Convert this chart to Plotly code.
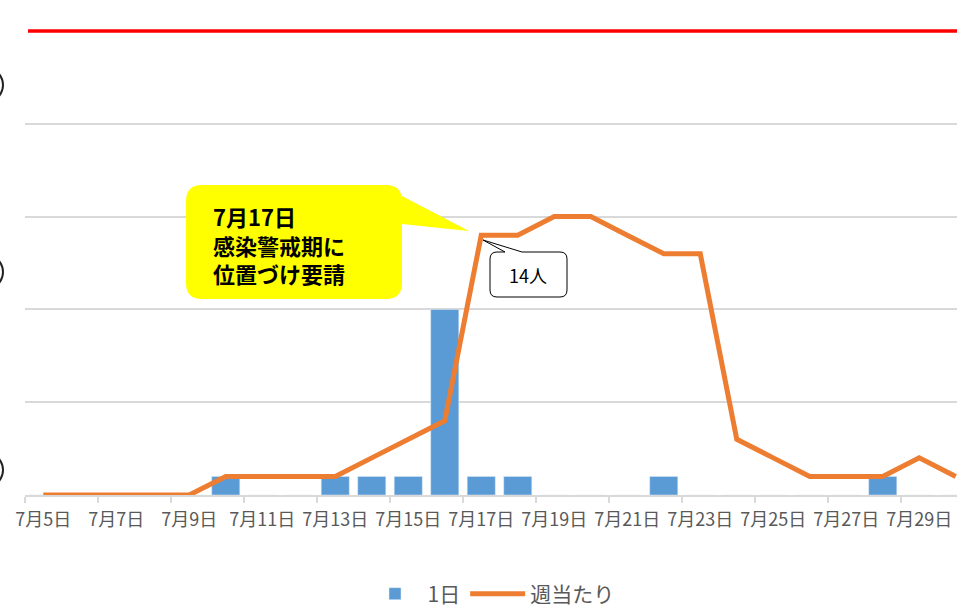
import plotly.graph_objects as go

# dates 7/5 .. 7/30
days = list(range(5, 31))
dates = [f"7月{d}日" for d in days]

daily = [0, 0, 0, 0, 0, 1, 0, 0, 1, 1, 1, 10, 1, 1, 0, 0, 0, 1, 0, 0, 0, 0, 0, 1, 0, 0]
weekly = [0, 0, 0, 0, 0, 1, 1, 1, 1, 2, 3, 4, 14, 14, 15, 15, 14, 13, 13, 3, 2, 1, 1, 1, 2, 1]
threshold = 25

W, H = 957, 609
L, R, T, B = 25, 0, 31, 114
pw, ph = W - L - R, H - T - B


def px(x):
    return (x - L) / pw


def py(y):
    return (H - B - y) / ph


fig = go.Figure()
fig.add_trace(go.Bar(x=dates, y=daily, name="1日", marker_color="#5B9BD5"))
fig.add_trace(go.Scatter(x=dates, y=weekly, name="週当たり", mode="lines",
                         line=dict(color="#ED7D31", width=5)))

# visible range ends at the right image edge
fig.update_xaxes(type="category", range=[-0.5, -0.5 + pw / 36.5], automargin=False,
                 dtick=2, tickson="boundaries", ticks="outside", ticklen=6, tickangle=0,
                 ticklabelstandoff=7,
                 tickcolor="#D9D9D9", tickwidth=2, showline=True, linecolor="#D9D9D9", linewidth=2,
                 showgrid=False, tickfont=dict(size=18, color="#595959"))
fig.update_yaxes(range=[0, 25], dtick=5, showgrid=True, gridcolor="#D9D9D9", automargin=False,
                 gridwidth=1.5, showticklabels=False, zeroline=False)

shapes = [
    dict(type="line", xref="paper", yref="paper", x0=px(28), x1=1, y0=1, y1=1,
         line=dict(color="#FF0000", width=3.5)),
]

# cropped circles at the left edge
for cy in (85, 272, 470):
    shapes.append(dict(type="circle", xref="paper", yref="paper",
                       x0=px(-70), x1=px(3), y0=py(cy + 24), y1=py(cy - 24),
                       line=dict(color="#222222", width=2)))

# yellow callout
x0, x1, y0, y1, r = 186, 402, 185, 299, 16
yellow = (f"M {px(x0 + r)},{py(y0)} L {px(x1 - r)},{py(y0)} "
          f"Q {px(x1)},{py(y0)} {px(x1)},{py(y0 + r)} "
          f"L {px(x1)},{py(196)} L {px(469)},{py(231)} L {px(x1)},{py(224)} "
          f"L {px(x1)},{py(y1 - r)} Q {px(x1)},{py(y1)} {px(x1 - r)},{py(y1)} "
          f"L {px(x0 + r)},{py(y1)} Q {px(x0)},{py(y1)} {px(x0)},{py(y1 - r)} "
          f"L {px(x0)},{py(y0 + r)} Q {px(x0)},{py(y0)} {px(x0 + r)},{py(y0)} Z")
shapes.append(dict(type="path", xref="paper", yref="paper", path=yellow,
                   fillcolor="#FFFF00", line=dict(width=0)))

# white callout
x0, x1, y0, y1, r = 490, 567, 252, 297, 7
white = (f"M {px(x0 + r)},{py(y0)} L {px(505)},{py(y0)} L {px(483)},{py(240)} "
         f"L {px(522)},{py(y0)} L {px(x1 - r)},{py(y0)} "
         f"Q {px(x1)},{py(y0)} {px(x1)},{py(y0 + r)} "
         f"L {px(x1)},{py(y1 - r)} Q {px(x1)},{py(y1)} {px(x1 - r)},{py(y1)} "
         f"L {px(x0 + r)},{py(y1)} Q {px(x0)},{py(y1)} {px(x0)},{py(y1 - r)} "
         f"L {px(x0)},{py(y0 + r)} Q {px(x0)},{py(y0)} {px(x0 + r)},{py(y0)} Z")
shapes.append(dict(type="path", xref="paper", yref="paper", path=white,
                   fillcolor="#FFFFFF", line=dict(color="#000000", width=1)))

fig.update_layout(
    width=W, height=H,
    margin=dict(l=L, r=R, t=T, b=B, autoexpand=False),
    plot_bgcolor="white", paper_bgcolor="white",
    font=dict(family="Noto Sans CJK JP, Noto Sans, sans-serif", color="#595959"),
    bargap=0.23,
    shapes=shapes,
    showlegend=True,
    legend=dict(orientation="h", x=0.5, xanchor="center", y=py(594), yanchor="middle",
                font=dict(size=21, color="#595959"), itemwidth=55),
    annotations=[
        dict(xref="paper", yref="paper", x=px(211), y=py(245), xanchor="left", yanchor="middle",
             text="<b>7月17日<br>感染警戒期に<br>位置づけ要請</b>", showarrow=False, align="left",
             font=dict(size=22, color="#000000")),
        dict(xref="paper", yref="paper", x=px(528), y=py(275), xanchor="center", yanchor="middle",
             text="14人", showarrow=False, font=dict(size=18, color="#000000")),
    ],
)

fig.write_html("out.html", config={"displayModeBar": False},
               post_script="document.body.style.margin='0px';")
